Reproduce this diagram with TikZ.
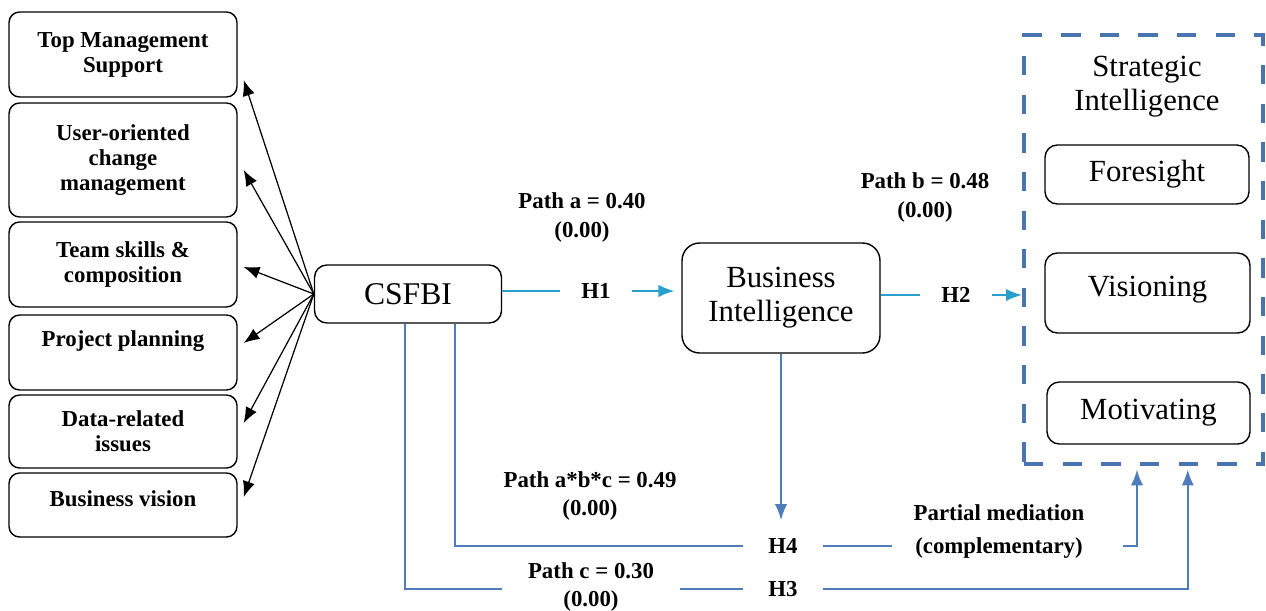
\documentclass[tikz,border=0pt]{standalone}
\usepackage{fontspec}
\setmainfont{Liberation Serif}
\usetikzlibrary{arrows.meta}
\definecolor{hypblue}{RGB}{41,160,204}
\definecolor{medblue}{RGB}{79,125,186}
\definecolor{boxblue}{RGB}{74,116,176}

\begin{document}
\begin{tikzpicture}[x=0.02cm,y=-0.02cm]
    \tikzset{factor/.style = {shape=rectangle,draw,rounded corners=6pt,line width=0.8pt,align=center,minimum width=4.56cm,font=\bfseries\fontsize{13}{14.2}\selectfont}}
    \tikzset{construct/.style = {shape=rectangle,draw,rounded corners=7pt,line width=0.8pt,align=center,font=\fontsize{17.5}{19.5}\selectfont}}
    \tikzset{edge/.style = {->,> = {Latex[length=9pt,width=7pt]}}}
    \tikzset{lbl/.style = {align=center,font=\bfseries\fontsize{13}{16.5}\selectfont}}
    \tikzset{hyp/.style = {inner xsep=12pt,font=\bfseries\fontsize{13}{14}\selectfont}}
    \useasboundingbox (0,0) rectangle (1266,611);
    % success factors
    \node[factor,minimum height=1.7cm] (tms) at (123,54.5) {Top Management\\Support};
    \node[factor,minimum height=2.28cm] (ucm) at (123,160) {User-oriented\\change\\management};
    \node[factor,minimum height=1.7cm] (tsc) at (123,264.5) {Team skills \&\\composition};
    \node[factor,minimum height=1.5cm,text depth=16pt] (pp) at (123,352.5) {Project planning};
    \node[factor,minimum height=1.46cm] (dri) at (123,431.5) {Data-related\\issues};
    \node[factor,minimum height=1.28cm,text depth=7pt] (bv) at (123,505) {Business vision};
    % constructs
    \node[construct,minimum width=3.74cm,minimum height=1.16cm,font=\fontsize{18}{20}\selectfont] (csfbi) at (408,294) {CSFBI};
    \node[construct,rounded corners=10pt,minimum width=3.96cm,minimum height=2.2cm] (bi) at (781,298) {Business\\Intelligence};
    \node[draw=boxblue,line width=2.5pt,dash pattern=on 11pt off 11pt,minimum width=4.78cm,minimum height=8.58cm] (si) at (1143.5,249.5) {};
    \node[font=\fontsize{17.5}{19.5}\selectfont,align=center] (sit) at (1147,87) {Strategic\\Intelligence};
    \node[construct,minimum width=4.08cm,minimum height=1.18cm] (fore) at (1147,174.5) {Foresight};
    \node[construct,minimum width=4.1cm,minimum height=1.6cm,text depth=8pt] (vis) at (1147.5,293) {Visioning};
    \node[construct,minimum width=4.06cm,minimum height=1.24cm] (mot) at (1148.5,413) {Motivating};
    % path labels
    \node[lbl] (pa) at (582,217.5) {Path a = 0.40\\(0.00)};
    \node[lbl] (pb) at (925,197.5) {Path b = 0.48\\(0.00)};
    \node[lbl] (pabc) at (590,496) {Path a*b*c = 0.49\\(0.00)};
    \node[lbl,inner xsep=14.5pt] (pc) at (591,587) {Path c = 0.30\\(0.00)};
    \node[lbl,font=\bfseries\fontsize{13}{18.5}\selectfont,inner xsep=12pt] (pm) at (999,531.5) {Partial mediation\\(complementary)};
    \node[hyp] (h1) at (596,291) {H1};
    \node[hyp] (h2) at (956,295) {H2};
    \node[hyp,inner xsep=14.5pt] (h4) at (783,546) {H4};
    \node[hyp,inner xsep=14.5pt] (h3) at (783,589) {H3};
    \coordinate (pmr) at ([xshift=10pt]pm.east);
    %edges
    \foreach \f/\dy in {tms/-14.5pt,ucm/-5.7pt,tsc/-1.4pt,pp/5.4pt,dri/4.8pt,bv/4.5pt}
        \draw[edge,line width=0.7pt] (csfbi.west) -- ([xshift=3.4pt,yshift=\dy]\f.east);
    \draw[hypblue,line width=0.9pt] (csfbi.east |- h1) -- (h1);
    \draw[edge,hypblue,line width=0.9pt,shorten >=4pt] (h1) -- (bi.west |- h1);
    \draw[hypblue,line width=0.9pt] (bi.east |- h2) -- (h2);
    \draw[edge,hypblue,line width=0.9pt] (h2) -- (si.west |- h2);
    \draw[edge,medblue,line width=0.9pt,shorten >=7pt] (bi.south) -- (bi.south |- h4.north);
    \draw[medblue,line width=0.9pt] ([xshift=26.6pt]csfbi.south) |- (h4);
    \draw[medblue,line width=0.9pt] (h4) -- (pm.west |- h4);
    \draw[edge,medblue,line width=0.9pt,shorten >=2pt] (pmr |- h4) -| ([xshift=-3.7pt]si.south);
    \draw[medblue,line width=0.9pt] ([xshift=-1.7pt]csfbi.south) |- (pc.west |- h3);
    \draw[medblue,line width=0.9pt] (pc.east |- h3) -- (h3);
    \draw[edge,medblue,line width=0.9pt,shorten >=2pt] (h3) -| ([xshift=25.2pt]si.south);
\end{tikzpicture}
\end{document}
